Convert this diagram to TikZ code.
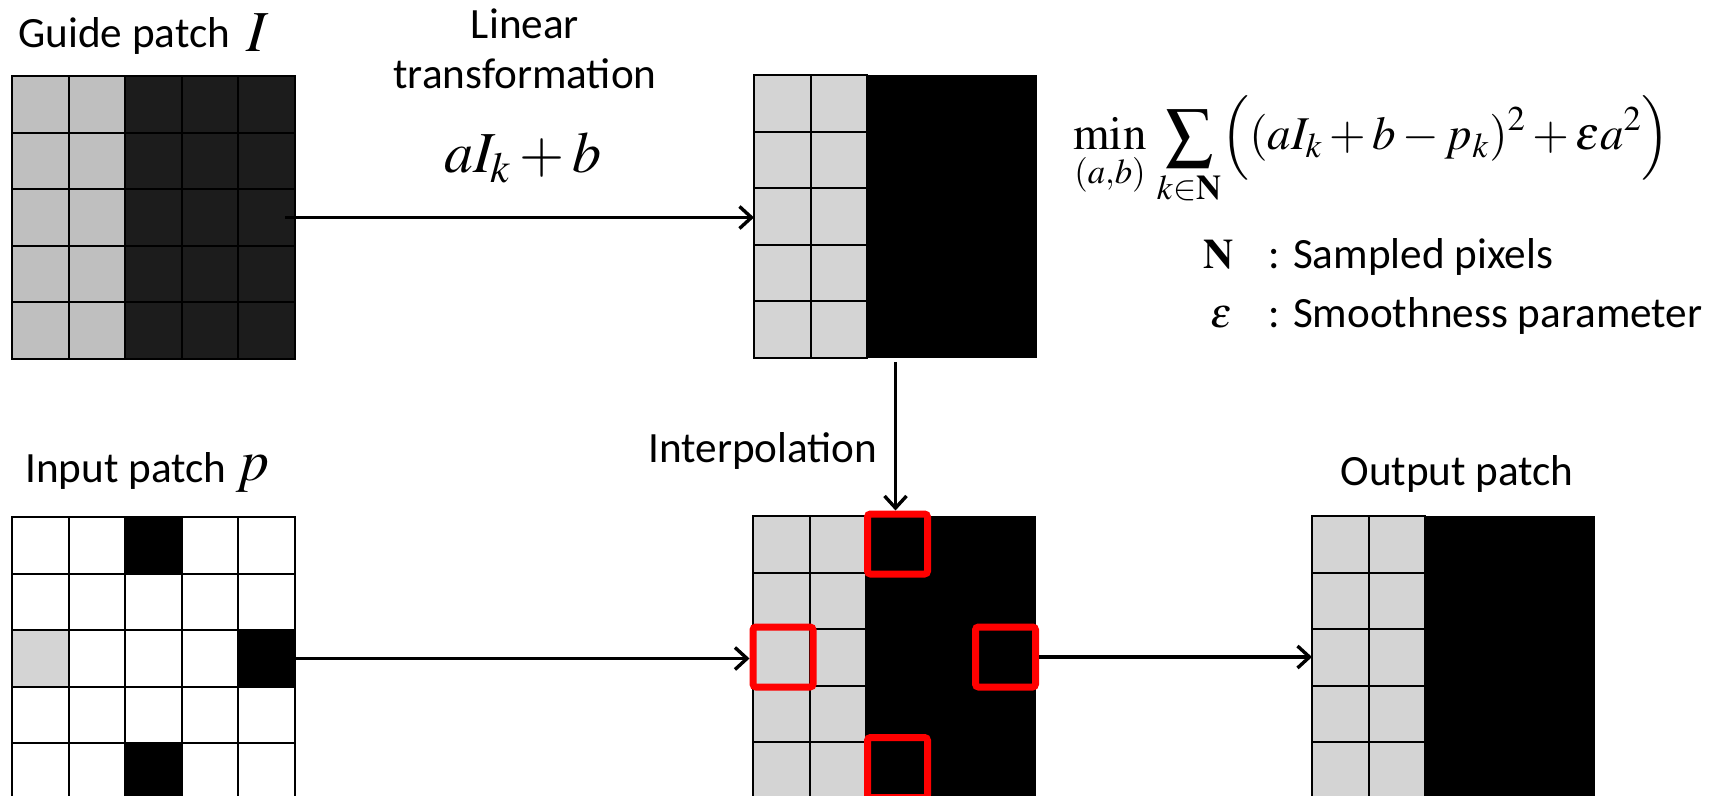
\documentclass[tikz,border=0pt]{standalone}
\usepackage{mathptmx}
\usepackage[no-math]{fontspec}
\setmainfont{Carlito}
\usetikzlibrary{arrows.meta}
\definecolor{guidelight}{gray}{0.75}
\definecolor{guidedark}{gray}{0.11}
\definecolor{patchlight}{gray}{0.83}

\begin{document}
\begin{tikzpicture}[x=0.5pt, y=-0.5pt]
  \clip (0,0) rectangle (1717,796);
  \tikzset{
    patch/.style={minimum size=141.5pt, inner sep=0pt, outer sep=0pt},
    cell/.style={draw=black, line width=1pt},
    probe/.style={draw=red, line width=3.5pt, minimum size=30pt, inner sep=0pt, rounded corners=1.5pt},
    flow/.style={-{Straight Barb[length=6pt, width=11pt]}, line width=1.7pt},
    txt/.style={font=\fontsize{21.6}{25}\selectfont, inner sep=0pt},
    big/.style={font=\fontsize{29}{34}\selectfont, inner sep=0pt},
    sym/.style={font=\fontsize{21}{25}\selectfont, inner sep=0pt}
  }
  % guide patch
  \node[patch] (guide) at (153.5,217.5) {};
  \foreach \r in {0,...,4}{
    \foreach \c in {0,1} \draw[cell, fill=guidelight] (12+\c*56.6, 76+\r*56.6) rectangle ++(56.6,56.6);
    \foreach \c in {2,3,4} \draw[cell, fill=guidedark] (12+\c*56.6, 76+\r*56.6) rectangle ++(56.6,56.6);
  }
  % input patch
  \node[patch] (input) at (153.5,658.5) {};
  \foreach \r in {0,...,4}
    \foreach \c in {0,...,4} \draw[cell, fill=white] (12+\c*56.6, 517+\r*56.6) rectangle ++(56.6,56.6);
  \foreach \c/\r/\col in {2/0/black, 4/2/black, 2/4/black, 0/2/patchlight}
    \draw[cell, fill=\col] (12+\c*56.6, 517+\r*56.6) rectangle ++(56.6,56.6);
  % fitted, interpolated and output patches
  \foreach \x/\y/\n in {754/75/fitted, 753/516/interp, 1312/516/output}{
    \node[patch] (\n) at (\x+141.5,\y+141.5) {};
    \fill[black] (\x+2*56.6, \y) rectangle ++(3*56.6, 5*56.6);
    \foreach \r in {0,...,4}
      \foreach \c in {0,1} \draw[cell, fill=patchlight] (\x+\c*56.6, \y+\r*56.6) rectangle ++(56.6,56.6);
  }
  % sampled pixels
  \node[probe] (ptop) at (897.5,544) {};
  \node[probe] (pleft) at (783,657) {};
  \node[probe] (pright) at (1005.5,657) {};
  \node[probe] (pbottom) at (897.5,767.5) {};

  % labels
  \node[txt, anchor=base west] (guidelbl) at (18,48) {Guide patch};
  \node[big, anchor=base west] (guidesym) at (246,52) {$I$};
  \node[txt, anchor=base west] (inputlbl) at (25,482) {Input patch};
  \node[big, anchor=base west] (inputsym) at (236,480) {$p$};
  \node[txt, align=center, anchor=north] (linlbl) at (525,8) {Linear\\transformation};
  \node[big, anchor=base] (linmap) at (523,173) {$aI_k + b$};
  \node[txt, anchor=base west] (interplbl) at (648,462) {Interpolation};
  \node[txt, anchor=base west] (outputlbl) at (1340,485) {Output patch};
  \node[inner sep=0pt, anchor=base west, font=\fontsize{23.5}{28}\selectfont] (cost) at (1073,150)
    {$\displaystyle \min_{(a,b)}\, \sum_{k\in\mathbf{N}} \Bigl( (aI_k + b - p_k)^2 + \varepsilon a^2 \Bigr)$};
  \node[sym, anchor=base west] (nsym) at (1203,269) {$\mathbf{N}$};
  \node[txt, anchor=base west] (ndesc) at (1268,269) {: Sampled pixels};
  \node[sym, anchor=base west] (esym) at (1210,328) {$\varepsilon$};
  \node[txt, anchor=base west] (edesc) at (1268,328) {: Smoothness parameter};

  % connectors
  \draw[flow] ([xshift=-5pt]guide.east) -- (guide.east -| fitted.west);
  \draw[flow, shorten <=2pt] (fitted.south) -- (fitted.south |- ptop.north);
  \draw[flow] (input.east) -- (input.east -| pleft.west);
  \draw[flow] (pright.east) -- (pright.east -| output.west);
\end{tikzpicture}
\end{document}
